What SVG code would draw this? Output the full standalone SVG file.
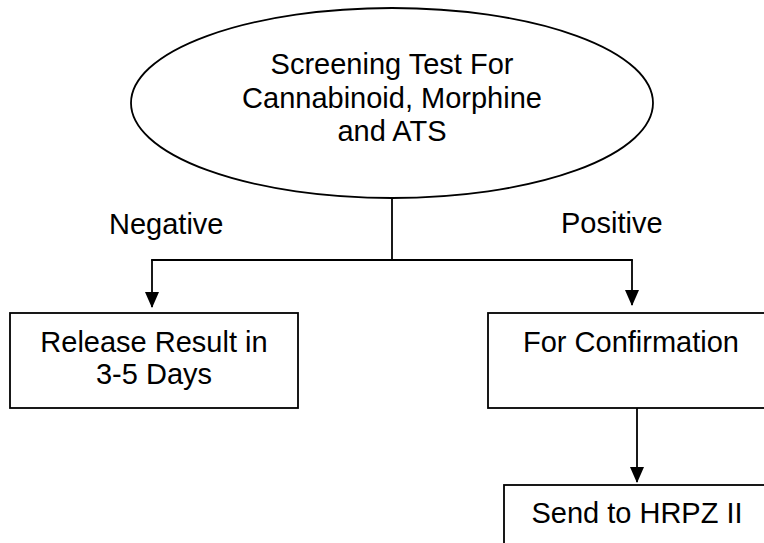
<svg xmlns="http://www.w3.org/2000/svg" width="764" height="543" viewBox="0 0 764 543">
<defs>
<style>
.s{fill:#fff;stroke:#000;stroke-width:1.8}
.c{fill:none;stroke:#000;stroke-width:1.8}
.a{marker-end:url(#ah)}
text{font-family:"Liberation Sans",Arial,sans-serif;font-size:29px;fill:#000}
.m{text-anchor:middle}
</style>
<marker id="ah" viewBox="0 0 16 14" refX="15" refY="7" markerWidth="16" markerHeight="14" markerUnits="userSpaceOnUse" orient="auto">
<path d="M0,0 L16,7 L0,14 Z" fill="#000"/>
</marker>
</defs>
<rect width="764" height="543" fill="#fff"/>
<g id="connectors">
<line class="c" x1="392" y1="198" x2="392" y2="260"/>
<line class="c" x1="151.1" y1="260" x2="632.9" y2="260"/>
<path class="c a" d="M152,260 V307"/>
<path class="c a" d="M632,260 V305"/>
<path class="c a" d="M637,408 V482"/>
</g>
<g id="n-screening">
<ellipse class="s" cx="392" cy="103" rx="261" ry="95"/>
<text class="m" x="392" y="74">Screening Test For</text>
<text class="m" x="392" y="108">Cannabinoid, Morphine</text>
<text class="m" x="392" y="141">and ATS</text>
</g>
<g id="l-negative"><text x="109" y="234">Negative</text></g>
<g id="l-positive"><text x="561" y="233">Positive</text></g>
<g id="n-release">
<rect class="s" x="10" y="313" width="288" height="95"/>
<text class="m" x="154" y="352">Release Result in</text>
<text class="m" x="154" y="384">3-5 Days</text>
</g>
<g id="n-confirm">
<rect class="s" x="488" y="313" width="290" height="95"/>
<text class="m" x="631" y="352">For Confirmation</text>
</g>
<g id="n-send">
<rect class="s" x="504" y="485" width="280" height="80"/>
<text class="m" x="637" y="523">Send to HRPZ II</text>
</g>
</svg>
